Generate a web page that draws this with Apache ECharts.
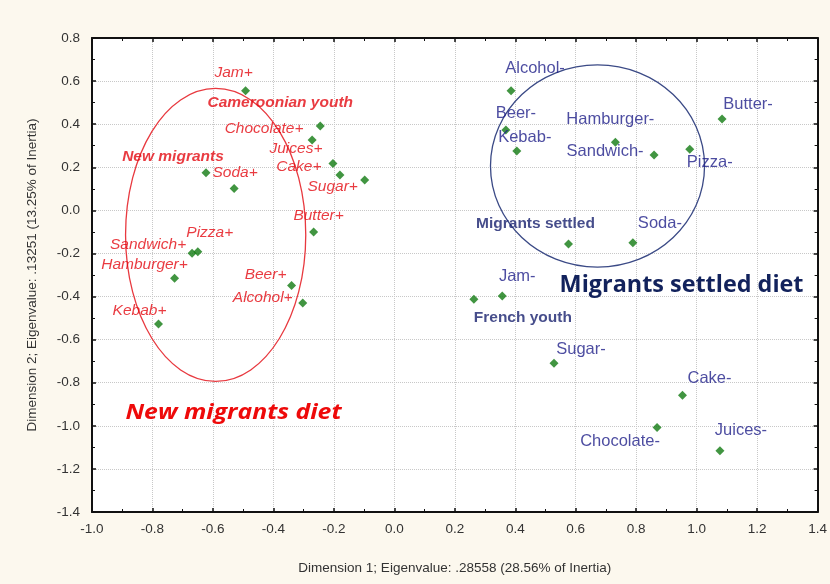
<!DOCTYPE html>
<html>
<head>
<meta charset="utf-8">
<script src="https://cdn.jsdelivr.net/npm/echarts@6/dist/echarts.min.js"></script>
<style>
  html, body { margin: 0; padding: 0; background: #fcf8ee; }
  #chart { width: 830px; height: 584px; }
</style>
</head>
<body>
<div id="chart"></div>
<script>
// Correspondence analysis map: food items consumed more ("+") or less ("-")
// and the population groups projected as supplementary points.

// Modalities "+" (more consumption) and supplementary groups on the left side
const plusNames = ['Jam+', 'Cameroonian youth', 'Chocolate+', 'Juices+', 'Cake+', 'Sugar+',
  'New migrants', 'Soda+', 'Butter+', 'Sandwich+', 'Pizza+', 'Hamburger+', 'Beer+', 'Alcohol+', 'Kebab+'];
const plusDim1 = [-0.492, -0.245, -0.272, -0.203, -0.180, -0.098,
  -0.623, -0.530, -0.267, -0.669, -0.650, -0.727, -0.340, -0.303, -0.780];
const plusDim2 = [0.555, 0.392, 0.327, 0.217, 0.164, 0.141,
  0.175, 0.101, -0.100, -0.199, -0.192, -0.315, -0.349, -0.430, -0.527];

// Modalities "-" (less consumption) and supplementary groups on the right side
const minusNames = ['Alcohol-', 'Beer-', 'Kebab-', 'Hamburger-', 'Sandwich-', 'Pizza-', 'Butter-',
  'Migrants settled', 'Soda-', 'French youth', 'Jam-', 'Sugar-', 'Cake-', 'Chocolate-', 'Juices-'];
const minusDim1 = [0.386, 0.369, 0.405, 0.731, 0.859, 0.977, 1.084,
  0.576, 0.789, 0.263, 0.357, 0.528, 0.953, 0.869, 1.077];
const minusDim2 = [0.555, 0.373, 0.276, 0.316, 0.257, 0.284, 0.424,
  -0.156, -0.150, -0.413, -0.397, -0.710, -0.858, -1.008, -1.116];

// Supplementary (group) points, drawn in bold
const groupNames = ['Cameroonian youth', 'New migrants', 'Migrants settled', 'French youth'];

// Diet zones: centre (dim1, dim2) and semi-axes (dim1, dim2)
const zoneNames = ['New migrants diet', 'Migrants settled diet'];
const zoneCenter = [[-0.591, -0.114], [0.672, 0.206]];
const zoneRadius = [[0.298, 0.680], [0.354, 0.469]];

// Axis ticks
const xTicks = { min: -1.0, max: 1.4, step: 0.2 };
const yTicks = { min: -1.4, max: 0.8, step: 0.2 };

// ---- layout / styling ----
// label centre relative to its point, in pixels
const labelOffset = {
  'Jam+': [-12, -18], 'Cameroonian youth': [-40, -23], 'Chocolate+': [-48, -11],
  'Juices+': [-37, -15], 'Cake+': [-41, -8], 'Sugar+': [-32, 7],
  'New migrants': [-33, -16], 'Soda+': [1, -16], 'Butter+': [5, -16],
  'Sandwich+': [-44, -9], 'Pizza+': [12, -19], 'Hamburger+': [-30, -14],
  'Beer+': [-26, -11], 'Alcohol+': [-40, -5], 'Kebab+': [-19, -13],
  'Alcohol-': [24, -22], 'Beer-': [10, -17], 'Kebab-': [8, -13],
  'Hamburger-': [-5, -23], 'Sandwich-': [-49, -4], 'Pizza-': [20, 13],
  'Butter-': [26, -15], 'Migrants settled': [-33, -20], 'Soda-': [27, -19],
  'French youth': [49, 18], 'Jam-': [15, -19], 'Sugar-': [27, -14],
  'Cake-': [27, -17], 'Chocolate-': [-37, 14], 'Juices-': [21, -20]
};
const zoneTitle = [
  { at: [-0.532, -0.940], color: '#ee0a0a', font: 'italic bold 21px "Open Sans", sans-serif', scaleX: 1.18 },
  { at: [0.950, -0.346], color: '#12225c', font: 'bold 23.4px "Open Sans", sans-serif', scaleX: 1.0 }
];
const RED = '#e40a12';
const BLUE = '#20208a';
const NAVY = '#18206e';
const GREEN = '#127a12';
const FONT = '"Liberation Sans", Arial, sans-serif';

function buildPoints(names, d1, d2, side) {
  return names.map(function (n, i) {
    const isGroup = groupNames.indexOf(n) >= 0;
    const lab = {};
    if (side === 'plus') {
      lab.color = RED;
      lab.fontStyle = 'italic';
      lab.fontSize = 15.5;
      if (isGroup) { lab.fontWeight = 'bold'; lab.fontSize = 15.5; }
    } else {
      lab.color = isGroup ? NAVY : BLUE;
      lab.fontSize = 16.5;
      if (isGroup) { lab.fontWeight = 'bold'; lab.fontSize = 15.5; }
    }
    return { name: n, value: [d1[i], d2[i]], label: lab };
  });
}

function placeLabel(names) {
  return function (params) {
    const off = labelOffset[names[params.dataIndex]] || [0, -12];
    return { dx: off[0], dy: off[1], hideOverlap: false };
  };
}

const chart = echarts.init(document.getElementById('chart'), null, { renderer: 'canvas' });

const axisCommon = {
  axisLine: { show: true, onZero: false, lineStyle: { color: '#111', width: 2 } },
  axisTick: { show: true, inside: true, length: 4, lineStyle: { color: '#111', width: 1.5 } },
  minorTick: { show: true, splitNumber: 2, length: 3, lineStyle: { color: '#111' } }
};

const option = {
  backgroundColor: '#fcf8ee',
  animation: false,
  grid: {
    left: 92, right: 10, top: 38, bottom: 72,
    show: true, backgroundColor: '#ffffff', borderColor: '#111', borderWidth: 0
  },
  xAxis: [
    Object.assign({}, axisCommon, {
      type: 'value', position: 'bottom', min: xTicks.min, max: xTicks.max, interval: xTicks.step,
      name: 'Dimension 1; Eigenvalue: .28558 (28.56% of Inertia)',
      nameLocation: 'middle', nameGap: 49,
      nameTextStyle: { fontFamily: FONT, fontSize: 13.5, color: '#333' },
      axisLabel: {
        fontFamily: FONT, fontSize: 13.5, color: '#333', margin: 10,
        formatter: function (v) { return v.toFixed(1); }
      },
      splitLine: { show: true, lineStyle: { color: '#c8c8c8', type: 'dotted', width: 1 } }
    }),
    Object.assign({}, axisCommon, {
      type: 'value', position: 'top', min: xTicks.min, max: xTicks.max, interval: xTicks.step,
      axisLabel: { show: false }, splitLine: { show: false }
    })
  ],
  yAxis: [
    Object.assign({}, axisCommon, {
      type: 'value', position: 'left', min: yTicks.min, max: yTicks.max, interval: yTicks.step,
      name: 'Dimension 2; Eigenvalue: .13251 (13.25% of Inertia)',
      nameLocation: 'middle', nameGap: 53, nameRotate: 90,
      nameTextStyle: { fontFamily: FONT, fontSize: 13.5, color: '#333' },
      axisLabel: {
        fontFamily: FONT, fontSize: 13.5, color: '#333', margin: 12,
        formatter: function (v) { return v.toFixed(1); }
      },
      splitLine: { show: true, lineStyle: { color: '#c8c8c8', type: 'dotted', width: 1 } }
    }),
    Object.assign({}, axisCommon, {
      type: 'value', position: 'right', min: yTicks.min, max: yTicks.max, interval: yTicks.step,
      axisLabel: { show: false }, splitLine: { show: false }
    })
  ],
  series: [
    {
      // diet zones
      type: 'custom',
      xAxisIndex: 0, yAxisIndex: 0,
      silent: true,
      z: 1,
      data: zoneNames.map(function (n, i) {
        return { name: n, value: [zoneCenter[i][0], zoneCenter[i][1], zoneRadius[i][0], zoneRadius[i][1]] };
      }),
      renderItem: function (params, api) {
        const c = api.coord([api.value(0), api.value(1)]);
        const s = api.size([api.value(2), api.value(3)]);
        const idx = params.dataIndex;
        return {
          type: 'ellipse',
          shape: { cx: c[0], cy: c[1], rx: s[0], ry: s[1] },
          style: { fill: null, stroke: idx === 0 ? '#e8393f' : '#3b4a86', lineWidth: 1.3 }
        };
      }
    },
    {
      // zone titles
      type: 'custom',
      xAxisIndex: 0, yAxisIndex: 0,
      silent: true,
      z: 3,
      data: zoneNames.map(function (n, i) {
        return { name: n, value: zoneTitle[i].at };
      }),
      renderItem: function (params, api) {
        const c = api.coord([api.value(0), api.value(1)]);
        const t = zoneTitle[params.dataIndex];
        return {
          type: 'text',
          x: c[0], y: c[1], scaleX: t.scaleX,
          style: {
            x: 0, y: 0, text: zoneNames[params.dataIndex],
            font: t.font, fill: t.color, align: 'center', verticalAlign: 'middle'
          }
        };
      }
    },
    {
      type: 'scatter',
      xAxisIndex: 0, yAxisIndex: 0,
      symbol: 'diamond', symbolSize: 9,
      itemStyle: { color: GREEN },
      z: 4,
      label: {
        show: true, position: 'inside', align: 'center', verticalAlign: 'middle',
        fontFamily: FONT, fontSize: 15.5,
        formatter: function (p) { return p.name; }
      },
      labelLayout: placeLabel(plusNames),
      data: buildPoints(plusNames, plusDim1, plusDim2, 'plus')
    },
    {
      type: 'scatter',
      xAxisIndex: 0, yAxisIndex: 0,
      symbol: 'diamond', symbolSize: 9,
      itemStyle: { color: GREEN },
      z: 4,
      label: {
        show: true, position: 'inside', align: 'center', verticalAlign: 'middle',
        fontFamily: FONT, fontSize: 16.5,
        formatter: function (p) { return p.name; }
      },
      labelLayout: placeLabel(minusNames),
      data: buildPoints(minusNames, minusDim1, minusDim2, 'minus')
    }
  ]
};

chart.setOption(option);
</script>
</body>
</html>
